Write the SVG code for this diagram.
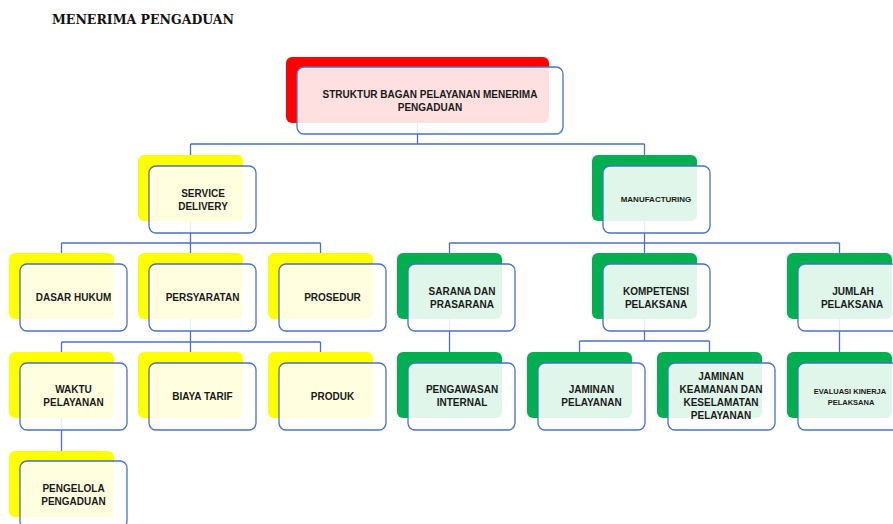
<svg xmlns="http://www.w3.org/2000/svg" width="893" height="524" viewBox="0 0 893 524">
<defs>
<style>
.bg{fill:#ffffff}
.red{fill:#ff0000}
.yel{fill:#ffff00}
.grn{fill:#00b050}
.front{fill:#ffffff;fill-opacity:0.88;stroke:#4a72c0;stroke-width:1.3}
.conn{fill:none;stroke:#4a72c0;stroke-width:1.3}
.t{font-family:"Liberation Sans",Arial,sans-serif;font-weight:bold;font-size:10px;fill:#1a1a1a;text-anchor:middle}
.s8{font-size:8px}
.s7{font-size:7.5px}
.title{font-family:"DejaVu Serif","Liberation Serif",serif;font-weight:bold;font-size:13.5px;fill:#111}
</style>
</defs>
<rect class="bg" x="0" y="0" width="893" height="524"/>
<text class="title" x="52" y="24" textLength="182" lengthAdjust="spacingAndGlyphs">MENERIMA PENGADUAN</text>

<g id="connectors">
<path class="conn" d="M417.5 123V144M190.5 144H644.5M190.5 144V155M644.5 144V155"/>
<path class="conn" d="M190.5 221V253M61.5 243H320.5M61.5 243V253M320.5 243V253"/>
<path class="conn" d="M190.5 319V352M61.5 342H320.5M61.5 342V352M320.5 342V352"/>
<path class="conn" d="M61.5 418V451"/>
<path class="conn" d="M644.5 221V253M449.5 243H839.5M449.5 243V253M839.5 243V253"/>
<path class="conn" d="M449.5 319V352"/>
<path class="conn" d="M644.5 319V341M579.5 341H709.5M579.5 341V352M709.5 341V352"/>
<path class="conn" d="M839.5 319V352"/>
</g>

<g id="top">
<rect class="red" x="286" y="57" width="263" height="66" rx="6"/>
<rect class="front" x="297" y="67" width="266" height="67" rx="7"/>
<text class="t" x="430" y="97.5">STRUKTUR BAGAN PELAYANAN MENERIMA</text>
<text class="t" x="430" y="110.5">PENGADUAN</text>
</g>

<g id="service">
<rect class="yel" x="138" y="155" width="105" height="66" rx="6"/>
<rect class="front" x="149" y="166" width="107" height="67" rx="7"/>
<text class="t" x="203" y="196.5">SERVICE</text>
<text class="t" x="203" y="209.5">DELIVERY</text>
</g>

<g id="manufacturing">
<rect class="grn" x="592" y="155" width="105" height="66" rx="6"/>
<rect class="front" x="603" y="166" width="107" height="67" rx="7"/>
<text class="t s8" x="656" y="202">MANUFACTURING</text>
</g>

<g id="dasar-hukum">
<rect class="yel" x="9" y="253" width="105" height="66" rx="6"/>
<rect class="front" x="20" y="264" width="107" height="67" rx="7"/>
<text class="t" x="73.5" y="301">DASAR HUKUM</text>
</g>

<g id="persyaratan">
<rect class="yel" x="138" y="253" width="105" height="66" rx="6"/>
<rect class="front" x="149" y="264" width="107" height="67" rx="7"/>
<text class="t" x="202.5" y="301">PERSYARATAN</text>
</g>

<g id="prosedur">
<rect class="yel" x="268" y="253" width="105" height="66" rx="6"/>
<rect class="front" x="279" y="264" width="107" height="67" rx="7"/>
<text class="t" x="332.5" y="301">PROSEDUR</text>
</g>

<g id="sarana">
<rect class="grn" x="397" y="253" width="105" height="66" rx="6"/>
<rect class="front" x="408" y="264" width="107" height="67" rx="7"/>
<text class="t" x="462" y="294.5">SARANA DAN</text>
<text class="t" x="462" y="307.5">PRASARANA</text>
</g>

<g id="kompetensi">
<rect class="grn" x="592" y="253" width="105" height="66" rx="6"/>
<rect class="front" x="603" y="264" width="107" height="67" rx="7"/>
<text class="t" x="656" y="294.5">KOMPETENSI</text>
<text class="t" x="656" y="307.5">PELAKSANA</text>
</g>

<g id="jumlah">
<rect class="grn" x="787" y="253" width="105" height="66" rx="6"/>
<rect class="front" x="798" y="264" width="107" height="67" rx="7"/>
<text class="t" x="853" y="294.5">JUMLAH</text>
<text class="t" x="852" y="307.5">PELAKSANA</text>
</g>

<g id="waktu">
<rect class="yel" x="9" y="352" width="105" height="66" rx="6"/>
<rect class="front" x="20" y="363" width="107" height="67" rx="7"/>
<text class="t" x="73.5" y="392.5">WAKTU</text>
<text class="t" x="73.5" y="405.5">PELAYANAN</text>
</g>

<g id="biaya">
<rect class="yel" x="138" y="352" width="105" height="66" rx="6"/>
<rect class="front" x="149" y="363" width="107" height="67" rx="7"/>
<text class="t" x="202.5" y="399.5">BIAYA TARIF</text>
</g>

<g id="produk">
<rect class="yel" x="268" y="352" width="105" height="66" rx="6"/>
<rect class="front" x="279" y="363" width="107" height="67" rx="7"/>
<text class="t" x="332.5" y="399.5">PRODUK</text>
</g>

<g id="pengawasan">
<rect class="grn" x="397" y="352" width="105" height="66" rx="6"/>
<rect class="front" x="408" y="363" width="107" height="67" rx="7"/>
<text class="t" x="462" y="392.5">PENGAWASAN</text>
<text class="t" x="462" y="405.5">INTERNAL</text>
</g>

<g id="jaminan-pelayanan">
<rect class="grn" x="527" y="352" width="105" height="66" rx="6"/>
<rect class="front" x="538" y="363" width="107" height="67" rx="7"/>
<text class="t" x="591.5" y="392.5">JAMINAN</text>
<text class="t" x="591.5" y="405.5">PELAYANAN</text>
</g>

<g id="jaminan-keamanan">
<rect class="grn" x="657" y="352" width="105" height="66" rx="6"/>
<rect class="front" x="668" y="363" width="107" height="67" rx="7"/>
<text class="t" x="721" y="379.5">JAMINAN</text>
<text class="t" x="721" y="392.5">KEAMANAN DAN</text>
<text class="t" x="721" y="405.5">KESELAMATAN</text>
<text class="t" x="721" y="419">PELAYANAN</text>
</g>

<g id="evaluasi">
<rect class="grn" x="787" y="352" width="105" height="66" rx="6"/>
<rect class="front" x="798" y="363" width="107" height="67" rx="7"/>
<text class="t s7" x="850" y="393.5">EVALUASI KINERJA</text>
<text class="t s7" x="851" y="404.5">PELAKSANA</text>
</g>

<g id="pengelola">
<rect class="yel" x="9" y="451" width="105" height="66" rx="6"/>
<rect class="front" x="20" y="461" width="107" height="67" rx="7"/>
<text class="t" x="73.5" y="491.5">PENGELOLA</text>
<text class="t" x="73.5" y="504.5">PENGADUAN</text>
</g>
</svg>
